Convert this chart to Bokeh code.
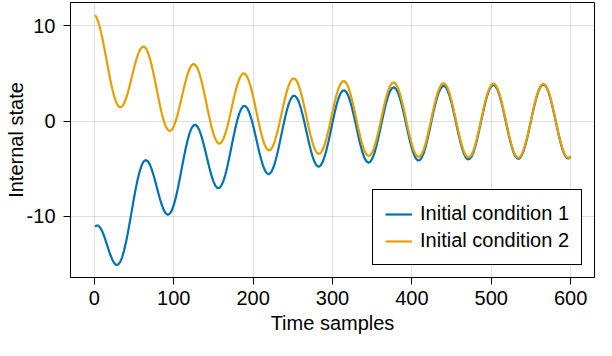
from bokeh.plotting import figure
from bokeh.models import Range1d, FixedTicker
from bokeh.embed import file_html
from bokeh.resources import INLINE

# ---- data ----
samples = [
    1, 2.5, 5, 7.5, 10, 12.5, 15, 17.5, 20, 22.5,
    25, 27.5, 30, 32.5, 35, 37.5, 40, 42.5, 45, 47.5,
    50, 52.5, 55, 57.5, 60, 62.5, 65, 67.5, 70, 72.5,
    75, 77.5, 80, 82.5, 85, 87.5, 90, 92.5, 95, 97.5,
    100, 102.5, 105, 107.5, 110, 112.5, 115, 117.5, 120, 122.5,
    125, 127.5, 130, 132.5, 135, 137.5, 140, 142.5, 145, 147.5,
    150, 152.5, 155, 157.5, 160, 162.5, 165, 167.5, 170, 172.5,
    175, 177.5, 180, 182.5, 185, 187.5, 190, 192.5, 195, 197.5,
    200, 202.5, 205, 207.5, 210, 212.5, 215, 217.5, 220, 222.5,
    225, 227.5, 230, 232.5, 235, 237.5, 240, 242.5, 245, 247.5,
    250, 252.5, 255, 257.5, 260, 262.5, 265, 267.5, 270, 272.5,
    275, 277.5, 280, 282.5, 285, 287.5, 290, 292.5, 295, 297.5,
    300, 302.5, 305, 307.5, 310, 312.5, 315, 317.5, 320, 322.5,
    325, 327.5, 330, 332.5, 335, 337.5, 340, 342.5, 345, 347.5,
    350, 352.5, 355, 357.5, 360, 362.5, 365, 367.5, 370, 372.5,
    375, 377.5, 380, 382.5, 385, 387.5, 390, 392.5, 395, 397.5,
    400, 402.5, 405, 407.5, 410, 412.5, 415, 417.5, 420, 422.5,
    425, 427.5, 430, 432.5, 435, 437.5, 440, 442.5, 445, 447.5,
    450, 452.5, 455, 457.5, 460, 462.5, 465, 467.5, 470, 472.5,
    475, 477.5, 480, 482.5, 485, 487.5, 490, 492.5, 495, 497.5,
    500, 502.5, 505, 507.5, 510, 512.5, 515, 517.5, 520, 522.5,
    525, 527.5, 530, 532.5, 535, 537.5, 540, 542.5, 545, 547.5,
    550, 552.5, 555, 557.5, 560, 562.5, 565, 567.5, 570, 572.5,
    575, 577.5, 580, 582.5, 585, 587.5, 590, 592.5, 595, 597.5,
    600]

condition_1 = [
    -11.12, -11.00, -10.99, -11.21, -11.60, -12.14, -12.76, -13.42, -14.03, -14.55,
    -14.92, -15.12, -15.08, -14.83, -14.33, -13.62, -12.70, -11.65, -10.48, -9.28,
    -8.08, -6.97, -5.98, -5.17, -4.57, -4.21, -4.10, -4.23, -4.58, -5.13,
    -5.80, -6.58, -7.37, -8.15, -8.82, -9.36, -9.71, -9.85, -9.75, -9.41,
    -8.85, -8.08, -7.16, -6.12, -5.03, -3.94, -2.91, -2.01, -1.27, -0.75,
    -0.45, -0.40, -0.59, -1.00, -1.61, -2.36, -3.20, -4.08, -4.94, -5.71,
    -6.34, -6.80, -7.03, -7.04, -6.79, -6.33, -5.65, -4.81, -3.84, -2.81,
    -1.77, -0.80, 0.07, 0.78, 1.28, 1.56, 1.59, 1.38, 0.95, 0.32,
    -0.46, -1.34, -2.26, -3.17, -3.99, -4.69, -5.20, -5.51, -5.58, -5.41,
    -5.00, -4.39, -3.60, -2.68, -1.69, -0.68, 0.28, 1.14, 1.84, 2.34,
    2.62, 2.66, 2.46, 2.03, 1.40, 0.61, -0.28, -1.23, -2.16, -3.02,
    -3.76, -4.32, -4.68, -4.80, -4.68, -4.32, -3.75, -3.00, -2.12, -1.14,
    -0.15, 0.80, 1.68, 2.37, 2.88, 3.18, 3.24, 3.05, 2.64, 2.02,
    1.24, 0.34, -0.61, -1.56, -2.44, -3.22, -3.82, -4.21, -4.37, -4.30,
    -3.98, -3.45, -2.73, -1.87, -0.91, 0.07, 1.02, 1.89, 2.61, 3.15,
    3.47, 3.55, 3.39, 2.99, 2.39, 1.62, 0.73, -0.22, -1.18, -2.09,
    -2.88, -3.51, -3.94, -4.14, -4.10, -3.82, -3.33, -2.63, -1.79, -0.85,
    0.13, 1.08, 1.96, 2.70, 3.26, 3.60, 3.71, 3.58, 3.21, 2.63,
    1.88, 1.00, 0.05, -0.92, -1.84, -2.65, -3.31, -3.77, -4.01, -4.00,
    -3.76, -3.29, -2.62, -1.80, -0.87, 0.10, 1.06, 1.95, 2.71, 3.29,
    3.66, 3.80, 3.70, 3.36, 2.80, 2.07, 1.20, 0.25, -0.72, -1.65,
    -2.48, -3.17, -3.66, -3.93, -3.96, -3.74, -3.30, -2.66, -1.86, -0.95,
    0.02, 0.99, 1.89, 2.66, 3.27, 3.67, 3.84, 3.77, 3.46, 2.93,
    2.22, 1.36, 0.42, -0.55, -1.49, -2.34, -3.05, -3.57, -3.87, -3.93,
    -3.75]

condition_2 = [
    11.16, 10.95, 10.42, 9.68, 8.76, 7.72, 6.60, 5.48, 4.40, 3.42,
    2.60, 1.98, 1.58, 1.44, 1.53, 1.85, 2.38, 3.07, 3.87, 4.72,
    5.56, 6.35, 7.01, 7.50, 7.78, 7.83, 7.65, 7.23, 6.59, 5.78,
    4.82, 3.79, 2.74, 1.72, 0.79, 0.02, -0.57, -0.93, -1.05, -0.92,
    -0.57, -0.01, 0.72, 1.56, 2.46, 3.37, 4.21, 4.94, 5.51, 5.87,
    6.00, 5.89, 5.54, 4.98, 4.23, 3.33, 2.35, 1.33, 0.34, -0.56,
    -1.32, -1.90, -2.26, -2.38, -2.25, -1.89, -1.33, -0.59, 0.27, 1.20,
    2.14, 3.02, 3.79, 4.41, 4.82, 5.01, 4.96, 4.66, 4.15, 3.44,
    2.59, 1.63, 0.64, -0.34, -1.24, -2.00, -2.58, -2.95, -3.09, -2.98,
    -2.63, -2.07, -1.34, -0.48, 0.46, 1.41, 2.32, 3.13, 3.78, 4.24,
    4.47, 4.46, 4.21, 3.74, 3.07, 2.24, 1.31, 0.33, -0.65, -1.55,
    -2.32, -2.92, -3.31, -3.46, -3.38, -3.05, -2.51, -1.79, -0.94, 0.01,
    0.97, 1.89, 2.75, 3.41, 3.90, 4.17, 4.20, 3.99, 3.55, 2.91,
    2.11, 1.19, 0.22, -0.75, -1.66, -2.44, -3.06, -3.48, -3.66, -3.60,
    -3.30, -2.79, -2.08, -1.23, -0.30, 0.67, 1.61, 2.46, 3.17, 3.69,
    4.00, 4.06, 3.89, 3.48, 2.87, 2.09, 1.19, 0.22, -0.75, -1.66,
    -2.47, -3.11, -3.55, -3.76, -3.73, -3.46, -2.97, -2.28, -1.45, -0.52,
    0.45, 1.40, 2.27, 3.00, 3.55, 3.89, 3.99, 3.85, 3.48, 2.89,
    2.13, 1.24, 0.29, -0.69, -1.61, -2.43, -3.10, -3.56, -3.80, -3.80,
    -3.56, -3.10, -2.44, -1.62, -0.70, 0.27, 1.23, 2.11, 2.87, 3.44,
    3.81, 3.95, 3.84, 3.50, 2.94, 2.20, 1.33, 0.38, -0.60, -1.53,
    -2.36, -3.05, -3.54, -3.82, -3.85, -3.64, -3.20, -2.56, -1.76, -0.85,
    0.12, 1.08, 1.97, 2.75, 3.36, 3.75, 3.92, 3.85, 3.53, 3.01,
    2.29, 1.43, 0.49, -0.49, -1.43, -2.28, -2.99, -3.51, -3.81, -3.87,
    -3.70]

series_labels = ["Initial condition 1", "Initial condition 2"]
x_ticks = [0, 100, 200, 300, 400, 500, 600]
y_ticks = [-10, 0, 10]
y_tick_labels = {-10: "-10", 0: "0", 10: "10"}

FONT = "Liberation Sans"
FS = "20px"
BLUE = "#0072B2"
ORANGE = "#E69F00"

p = figure(width=596, height=340, output_backend="svg", toolbar_location=None,
           x_range=Range1d(-30, 630), y_range=Range1d(-16.45, 12.47),
           min_border_left=70, min_border_right=2, min_border_top=2, min_border_bottom=63)

p.background_fill_color = "white"
p.border_fill_color = "white"
p.outline_line_color = "black"
p.outline_line_alpha = 1.0
p.outline_line_width = 1

p.line(samples, condition_1, line_color=BLUE, line_width=2.2, line_join="round",
       legend_label=series_labels[0])
p.line(samples, condition_2, line_color=ORANGE, line_width=2.2, line_join="round",
       legend_label=series_labels[1])

p.xaxis.ticker = FixedTicker(ticks=x_ticks)
p.yaxis.ticker = FixedTicker(ticks=y_ticks)
p.yaxis.major_label_overrides = y_tick_labels
p.xgrid.ticker = FixedTicker(ticks=x_ticks)
p.ygrid.ticker = FixedTicker(ticks=y_ticks)
for g in (p.xgrid, p.ygrid):
    g.grid_line_color = "black"
    g.grid_line_alpha = 0.12
    g.grid_line_width = 1

p.xaxis.axis_label = "Time samples"
p.yaxis.axis_label = "Internal state"
for ax in (p.xaxis, p.yaxis):
    ax.axis_line_color = "black"
    ax.axis_line_width = 1
    ax.major_tick_line_color = "black"
    ax.major_tick_line_width = 1
    ax.major_tick_in = 0
    ax.major_tick_out = 7
    ax.minor_tick_line_color = None
    ax.major_label_text_font = FONT
    ax.major_label_text_font_size = FS
    ax.major_label_text_color = "black"
    ax.axis_label_text_font = FONT
    ax.axis_label_text_font_size = FS
    ax.axis_label_text_font_style = "normal"
    ax.axis_label_text_color = "black"
p.xaxis.major_label_standoff = 6
p.xaxis.axis_label_standoff = 4
p.yaxis.major_label_standoff = 8
p.yaxis.axis_label_standoff = -3

lg = p.legend[0]
lg.location = "bottom_right"
lg.border_line_color = "black"
lg.border_line_width = 1
lg.border_line_alpha = 1.0
lg.background_fill_color = "white"
lg.background_fill_alpha = 1.0
lg.label_text_font = FONT
lg.label_text_font_size = FS
lg.label_text_color = "black"
lg.glyph_width = 27
lg.glyph_height = 20
lg.label_standoff = 8
lg.padding = 12
lg.spacing = 4
lg.margin = 12

open("out.html", "w").write(file_html(p, INLINE))
